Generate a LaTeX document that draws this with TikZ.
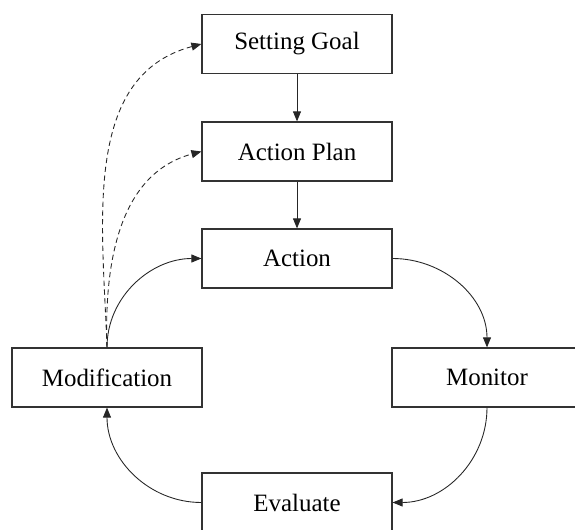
\documentclass[tikz,border=0pt]{standalone}
\usepackage{fontspec}
\setmainfont{Liberation Serif}
\usetikzlibrary{arrows.meta}

\begin{document}
\begin{tikzpicture}[x=0.02cm,y=-0.02cm,
  box/.style={draw=black!80,line width=0.7pt,minimum width=3.8cm,minimum height=1.18cm,
    inner sep=0pt,font=\fontsize{14.2}{17}\selectfont},
  link/.style={line width=0.5pt,draw=black!85,-{Triangle[length=2mm,width=1.6mm]}},
  dashlink/.style={link,dash pattern=on 3pt off 2pt}]
\useasboundingbox (0,0) rectangle (575,530);
\clip (0,0) rectangle (575,530);
\node[box] (goal) at (297,44) {Setting Goal};
\node[box] (plan) at (297,151.5) {Action Plan};
\node[box] (act) at (297,258.5) {Action};
\node[box] (mon) at (487,377.5) {Monitor};
\node[box] (eval) at (297,502.5) {Evaluate};
\node[box] (mod) at (107,377.5) {Modification};
\draw[link] (goal)--(plan);
\draw[link] (plan)--(act);
\draw[link] (act.east) to[out=0,in=90] (mon.north);
\draw[link] (mon.south) to[out=-90,in=0] (eval.east);
\draw[link] (eval.west) to[out=180,in=-90] (mod.south);
\draw[link] (mod.north) to[out=90,in=180] (act.west);
\draw[dashlink] (mod.north) to[out=92,in=195] (goal.west);
\draw[dashlink] (mod.north) to[out=92,in=195] (plan.west);
\end{tikzpicture}
\end{document}
